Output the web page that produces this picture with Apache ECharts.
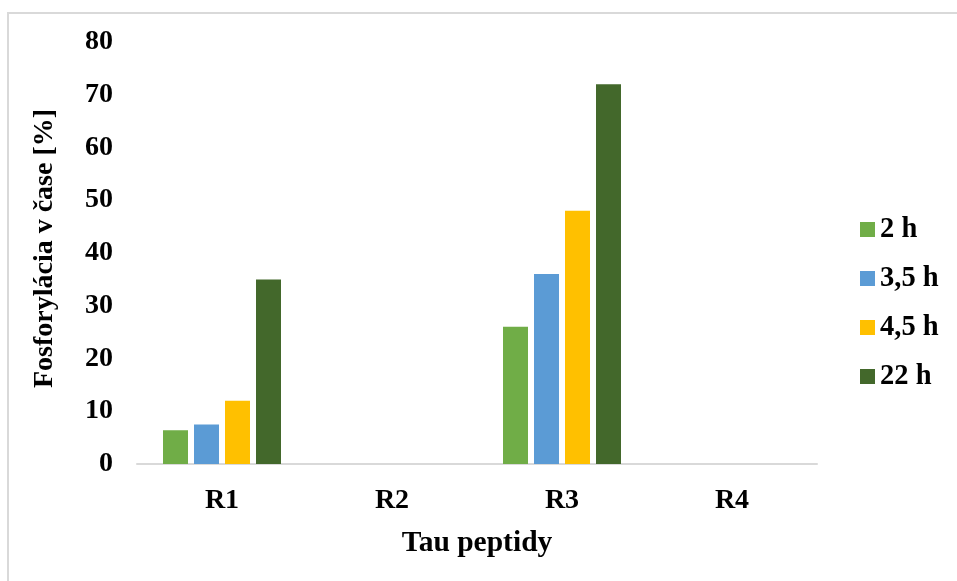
<!DOCTYPE html>
<html>
<head>
<meta charset="utf-8">
<script src="https://cdn.jsdelivr.net/npm/echarts@6/dist/echarts.min.js"></script>
<style>
html,body{margin:0;padding:0;background:#fff;}
#c{width:957px;height:581px;}
</style>
</head>
<body>
<div id="c"></div>
<script>
const categories = ['R1', 'R2', 'R3', 'R4'];
const seriesNames = ['2 h', '3,5 h', '4,5 h', '22 h'];
const values2h = [6.4, 0, 26, 0];
const values35h = [7.5, 0, 36, 0];
const values45h = [12, 0, 48, 0];
const values22h = [35, 0, 72, 0];
const yTicks = { min: 0, max: 80, interval: 10 };
const colors = ['#70AD47', '#5B9BD5', '#FFC000', '#43682B'];

const font = '"Liberation Serif", "Times New Roman", serif';
const allValues = [values2h, values35h, values45h, values22h];

const chart = echarts.init(document.getElementById('c'));
chart.setOption({
  animation: false,
  backgroundColor: '#fff',
  textStyle: { fontFamily: font },
  graphic: [{
    type: 'rect',
    shape: { x: 8, y: 13, width: 1200, height: 1200 },
    style: { fill: 'none', stroke: '#d9d9d9', lineWidth: 2 },
    silent: true
  }],
  grid: { left: 137, right: 140, top: 42, bottom: 117, containLabel: false },
  legend: {
    orient: 'vertical',
    left: 855,
    top: 210,
    itemWidth: 15,
    itemHeight: 15,
    itemGap: 20,
    icon: 'rect',
    data: seriesNames,
    textStyle: { fontFamily: font, fontSize: 28.5, fontWeight: 'bold', color: '#000', lineHeight: 28 }
  },
  xAxis: {
    type: 'category',
    data: categories,
    name: 'Tau peptidy',
    nameLocation: 'middle',
    nameGap: 64,
    nameTextStyle: { fontFamily: font, fontSize: 29.5, fontWeight: 'bold', color: '#000' },
    axisLine: { lineStyle: { color: '#d9d9d9', width: 2 } },
    axisTick: { show: false },
    axisLabel: { fontFamily: font, fontSize: 28, fontWeight: 'bold', color: '#000', margin: 23 },
    splitLine: { show: false }
  },
  yAxis: {
    type: 'value',
    min: yTicks.min,
    max: yTicks.max,
    interval: yTicks.interval,
    name: 'Fosforylácia v čase [%]',
    nameLocation: 'middle',
    nameGap: 78,
    nameTextStyle: { fontFamily: font, fontSize: 28, fontWeight: 'bold', color: '#000', padding: [0, 0, 0, 9] },
    axisLine: { show: false },
    axisTick: { show: false },
    axisLabel: { fontFamily: font, fontSize: 28, fontWeight: 'bold', color: '#000', margin: 24 },
    splitLine: { show: false }
  },
  series: seriesNames.map((n, i) => ({
    name: n,
    type: 'bar',
    data: allValues[i],
    barWidth: 25,
    barGap: '24%',
    itemStyle: { color: colors[i] }
  }))
});
</script>
</body>
</html>
